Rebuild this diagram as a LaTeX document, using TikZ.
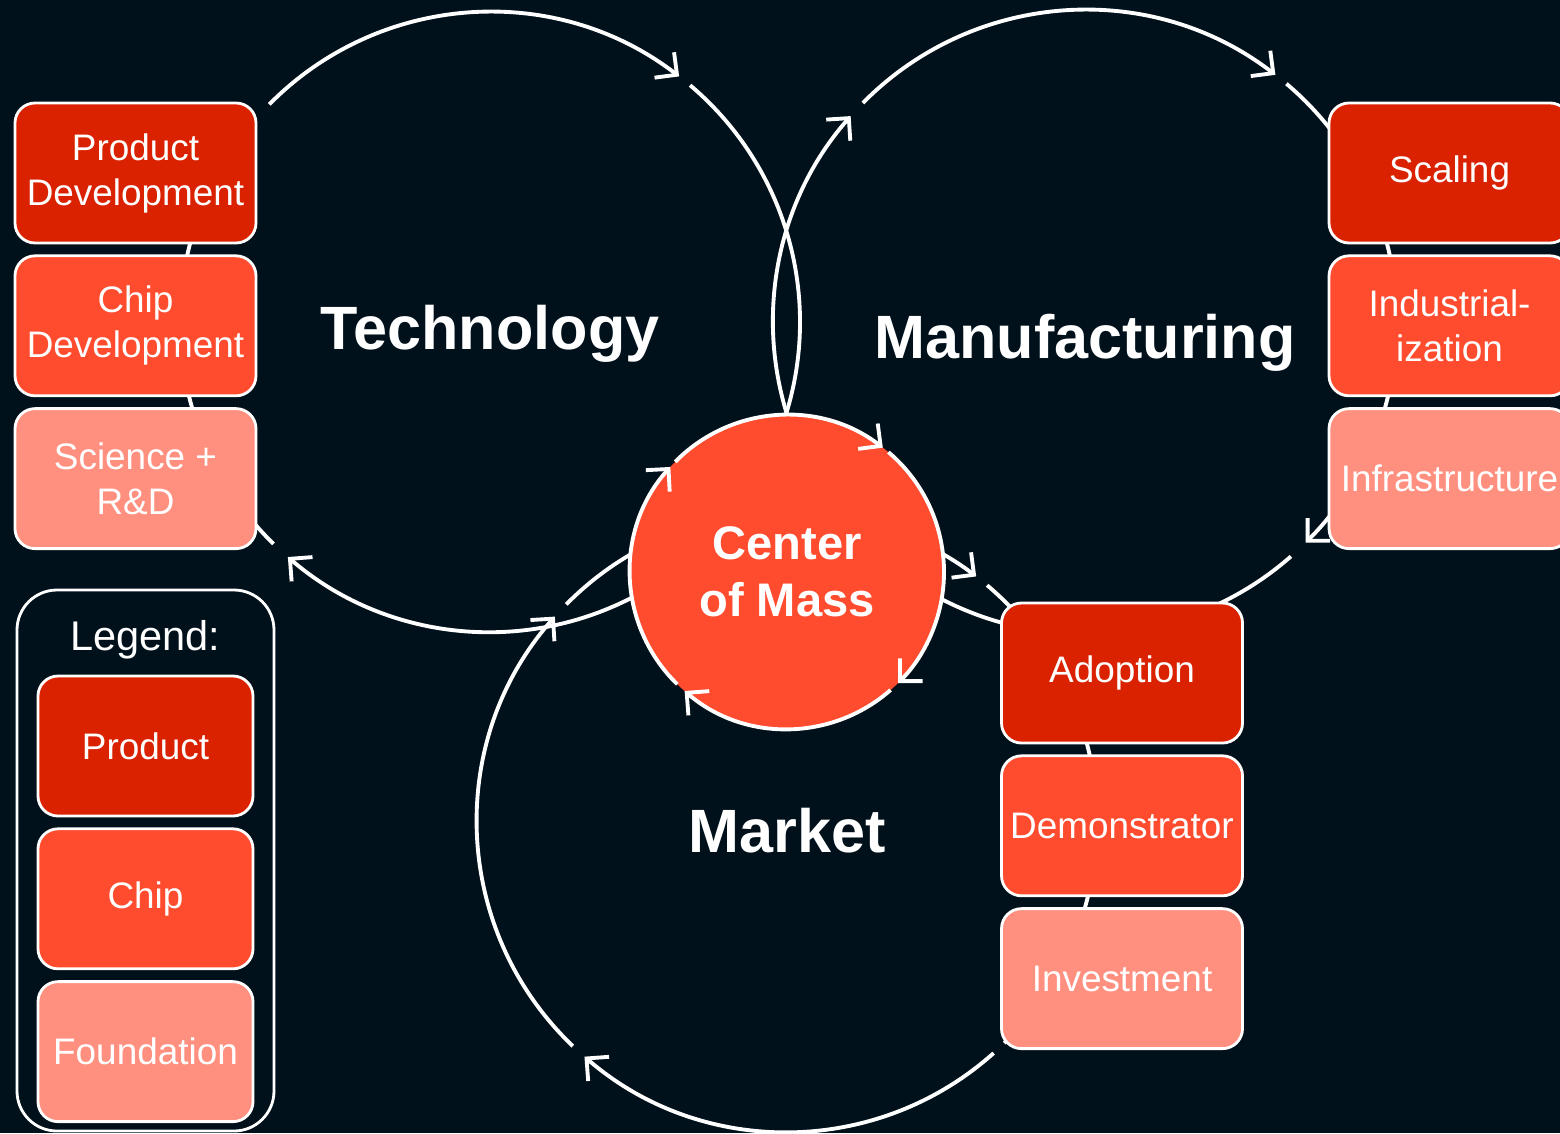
\documentclass[tikz,border=0pt]{standalone}
\usepackage{fontspec}
\setmainfont{Liberation Sans}
\usetikzlibrary{positioning,arrows.meta}
\definecolor{bgnavy}{HTML}{01111B}
\definecolor{prodred}{HTML}{DA2200}
\definecolor{chiporange}{HTML}{FF4B2E}
\definecolor{foundsalmon}{HTML}{FF9080}

\begin{document}
\begin{tikzpicture}[
    ring/.style={white, line width=1.1pt},
    cycle/.style={ring, -{Straight Barb[length=1.6mm,width=3.2mm]}},
    tile/.style={draw=white, line width=0.8pt, rounded corners=0.2cm, minimum width=2.41cm,
        minimum height=1.40cm, align=center, text=white, inner sep=1pt,
        font=\fontsize{10.5}{12.8}\selectfont},
    prod/.style={tile, fill=prodred},
    chip/.style={tile, fill=chiporange},
    found/.style={tile, fill=foundsalmon},
    title/.style={text=white, font=\fontsize{17.4}{20}\selectfont\bfseries}
]
    % Background, fixes the page size
    \fill[bgnavy] (0,0) rectangle (15.6,11.33);
    \useasboundingbox (0,0) rectangle (15.6,11.33);

    \coordinate (tech) at (4.90,8.11);
    \coordinate (manu) at (10.85,8.11);
    \coordinate (mkt) at (7.87,3.11);

    % Technology cycle
    \foreach \s/\e in {135.4/52.4, -58/-130.7}
        \draw[cycle] (tech) ++(\s:3.1) arc[start angle=\s, end angle=\e, radius=3.1];
    \foreach \s/\e in {49.8/-25, -134.3/-220}
        \draw[ring] (tech) ++(\s:3.1) arc[start angle=\s, end angle=\e, radius=3.1];

    % Manufacturing cycle
    \foreach \s/\e in {205/138.7, 135.4/52.4, 49.8/-45}
        \draw[cycle] (manu) ++(\s:3.12) arc[start angle=\s, end angle=\e, radius=3.12];
    \draw[ring] (manu) ++(-48.7:3.12) arc[start angle=-48.7, end angle=-125, radius=3.12];

    % Market cycle
    \foreach \s/\e in {65/52.4, -48.2/-130.8, -133.7/-221.5}
        \draw[cycle] (mkt) ++(\s:3.1) arc[start angle=\s, end angle=\e, radius=3.1];
    \foreach \s/\e in {49.8/-45.5, 135.4/115}
        \draw[ring] (mkt) ++(\s:3.1) arc[start angle=\s, end angle=\e, radius=3.1];

    % Center of mass with its own cycle
    \node[circle, fill=chiporange, minimum size=3.14cm, align=center, text=white,
        font=\fontsize{13.4}{16.2}\selectfont\bfseries] (com) at (7.87,5.61) {Center\\of Mass};
    \foreach \s/\e in {135.4/52.4, 49.8/-45, -48.7/-130.7, -134.3/-222}
        \draw[cycle] (com.center) ++(\s:1.57) arc[start angle=\s, end angle=\e, radius=1.57];

    % Technology boxes
    \node[prod] (pdev) at (1.355,9.60) {Product\\Development};
    \node[chip, below=0.1 of pdev] (cdev) {Chip\\Development};
    \node[found, below=0.1 of cdev] (sci) {Science +\\R\&D};

    % Manufacturing boxes
    \node[prod] (scal) at (14.495,9.60) {Scaling};
    \node[chip, below=0.1 of scal] (indu) {Industrial-\\ization};
    \node[found, below=0.1 of indu] (infra) {Infrastructure};

    % Market boxes
    \node[prod] (adop) at (11.22,4.60) {Adoption};
    \node[chip, below=0.1 of adop] (demo) {Demonstrator};
    \node[found, below=0.1 of demo] (inv) {Investment};

    % Legend
    \node[draw=white, line width=0.8pt, rounded corners=0.4cm, minimum width=2.57cm,
        minimum height=5.41cm] (legend) at (1.455,2.725) {};
    \node[text=white, font=\fontsize{11.8}{14}\selectfont] (legtitle) at (1.455,4.93) {Legend:};
    \node[prod, minimum width=2.15cm] (lprod) at (1.455,3.87) {Product};
    \node[chip, minimum width=2.15cm, below=0.1 of lprod] (lchip) {Chip};
    \node[found, minimum width=2.15cm, below=0.1 of lchip] (lfound) {Foundation};

    % Titles
    \node[title] (techlbl) at (4.90,7.99) {Technology};
    \node[title] (manulbl) at (10.85,7.90) {Manufacturing};
    \node[title] (mktlbl) at (7.87,3.02) {Market};
\end{tikzpicture}
\end{document}
